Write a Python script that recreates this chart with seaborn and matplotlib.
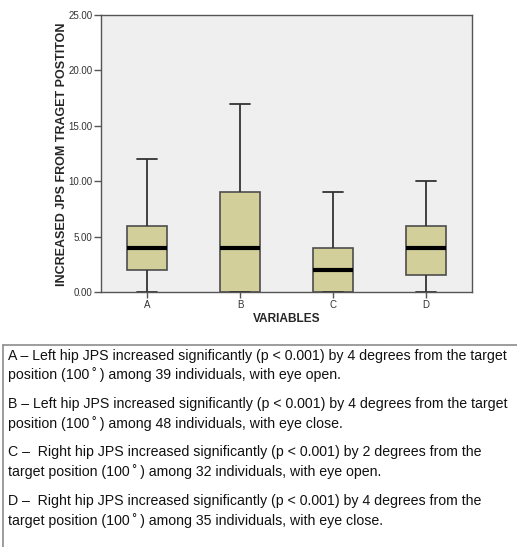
import pandas as pd
import matplotlib
matplotlib.use("Agg")
import matplotlib.pyplot as plt
import seaborn as sns

# five-number summaries (min, q1, median, q3, max)
groups = ["A", "B", "C", "D"]
summary_a = [0, 2, 4, 6, 12]
summary_b = [0, 0, 4, 9, 17]
summary_c = [0, 0, 2, 4, 9]
summary_d = [0, 1.5, 4, 6, 10]
y_ticks = [0, 5, 10, 15, 20, 25]

deg = "(100\u2009\u02da\u2009)"
notes = [
    ("A \u2013 Left hip JPS increased significantly (p < 0.001) by 4 degrees from the target",
     f"position {deg} among 39 individuals, with eye open."),
    ("B \u2013 Left hip JPS increased significantly (p < 0.001) by 4 degrees from the target",
     f"position {deg} among 48 individuals, with eye close."),
    ("C \u2013  Right hip JPS increased significantly (p < 0.001) by 2 degrees from the",
     f"target position {deg} among 32 individuals, with eye open."),
    ("D \u2013  Right hip JPS increased significantly (p < 0.001) by 4 degrees from the",
     f"target position {deg} among 35 individuals, with eye close."),
]

rows = []
for g, vals in zip(groups, [summary_a, summary_b, summary_c, summary_d]):
    for v in vals:
        rows.append({"var": g, "value": v})
df = pd.DataFrame(rows)

sns.set_theme(style="white")
plt.rcParams["font.family"] = ["Liberation Sans", "DejaVu Sans"]

W, H = 517, 547
fig = plt.figure(figsize=(W / 100, H / 100), dpi=100)
ax = fig.add_axes([101 / W, 1 - 292 / H, 371 / W, 277 / H])
ax.set_facecolor("#efefef")

edge = "#4d4d4d"
sns.boxplot(data=df, x="var", y="value", order=groups, ax=ax,
            color="#d3cf9a", saturation=1, width=0.43, linecolor=edge,
            linewidth=1.2, whis=1.5,
            medianprops=dict(color="black", linewidth=3),
            whiskerprops=dict(color="#333333", linewidth=1.3),
            capprops=dict(color="#333333", linewidth=1.3))

ax.set_ylim(0, 25)
ax.set_xlim(-0.5, 3.5)
ax.set_yticks(y_ticks)
ax.set_yticklabels([f"{t:.2f}" for t in y_ticks])
for s in ax.spines.values():
    s.set_color("#555555")
    s.set_linewidth(1.0)
ax.tick_params(axis="y", which="both", left=True, length=5, width=1,
               color="#555555", labelsize=7, labelcolor="#333333", pad=1)
ax.tick_params(axis="x", bottom=True, length=4, width=1, color="#555555",
               labelsize=7, labelcolor="#333333", pad=2)
ax.set_xlabel("VARIABLES", fontsize=8.6, fontweight="bold", labelpad=2)
ax.set_ylabel("INCREASED JPS FROM TRAGET POSTITON", fontsize=9,
              fontweight="bold")
ax.yaxis.set_label_coords(-0.089, 0.497)

# caption frame (open at right and bottom, as cropped in the source)
fig.add_artist(plt.Line2D([3 / W, 3 / W], [0, 1 - 345 / H],
                          transform=fig.transFigure, color="#8c8c8c", lw=1.2))
fig.add_artist(plt.Line2D([3 / W, 1], [1 - 345 / H, 1 - 345 / H],
                          transform=fig.transFigure, color="#8c8c8c", lw=1.2))

line_y = [356, 375, 404, 424, 452, 472, 501, 521]
k = 0
for first, second in notes:
    for txt in (first, second):
        fig.text(8 / W, 1 - line_y[k] / H, txt, fontsize=10.2, va="center",
                 ha="left", color="#111111")
        k += 1

fig.savefig("out.png", dpi=100)
